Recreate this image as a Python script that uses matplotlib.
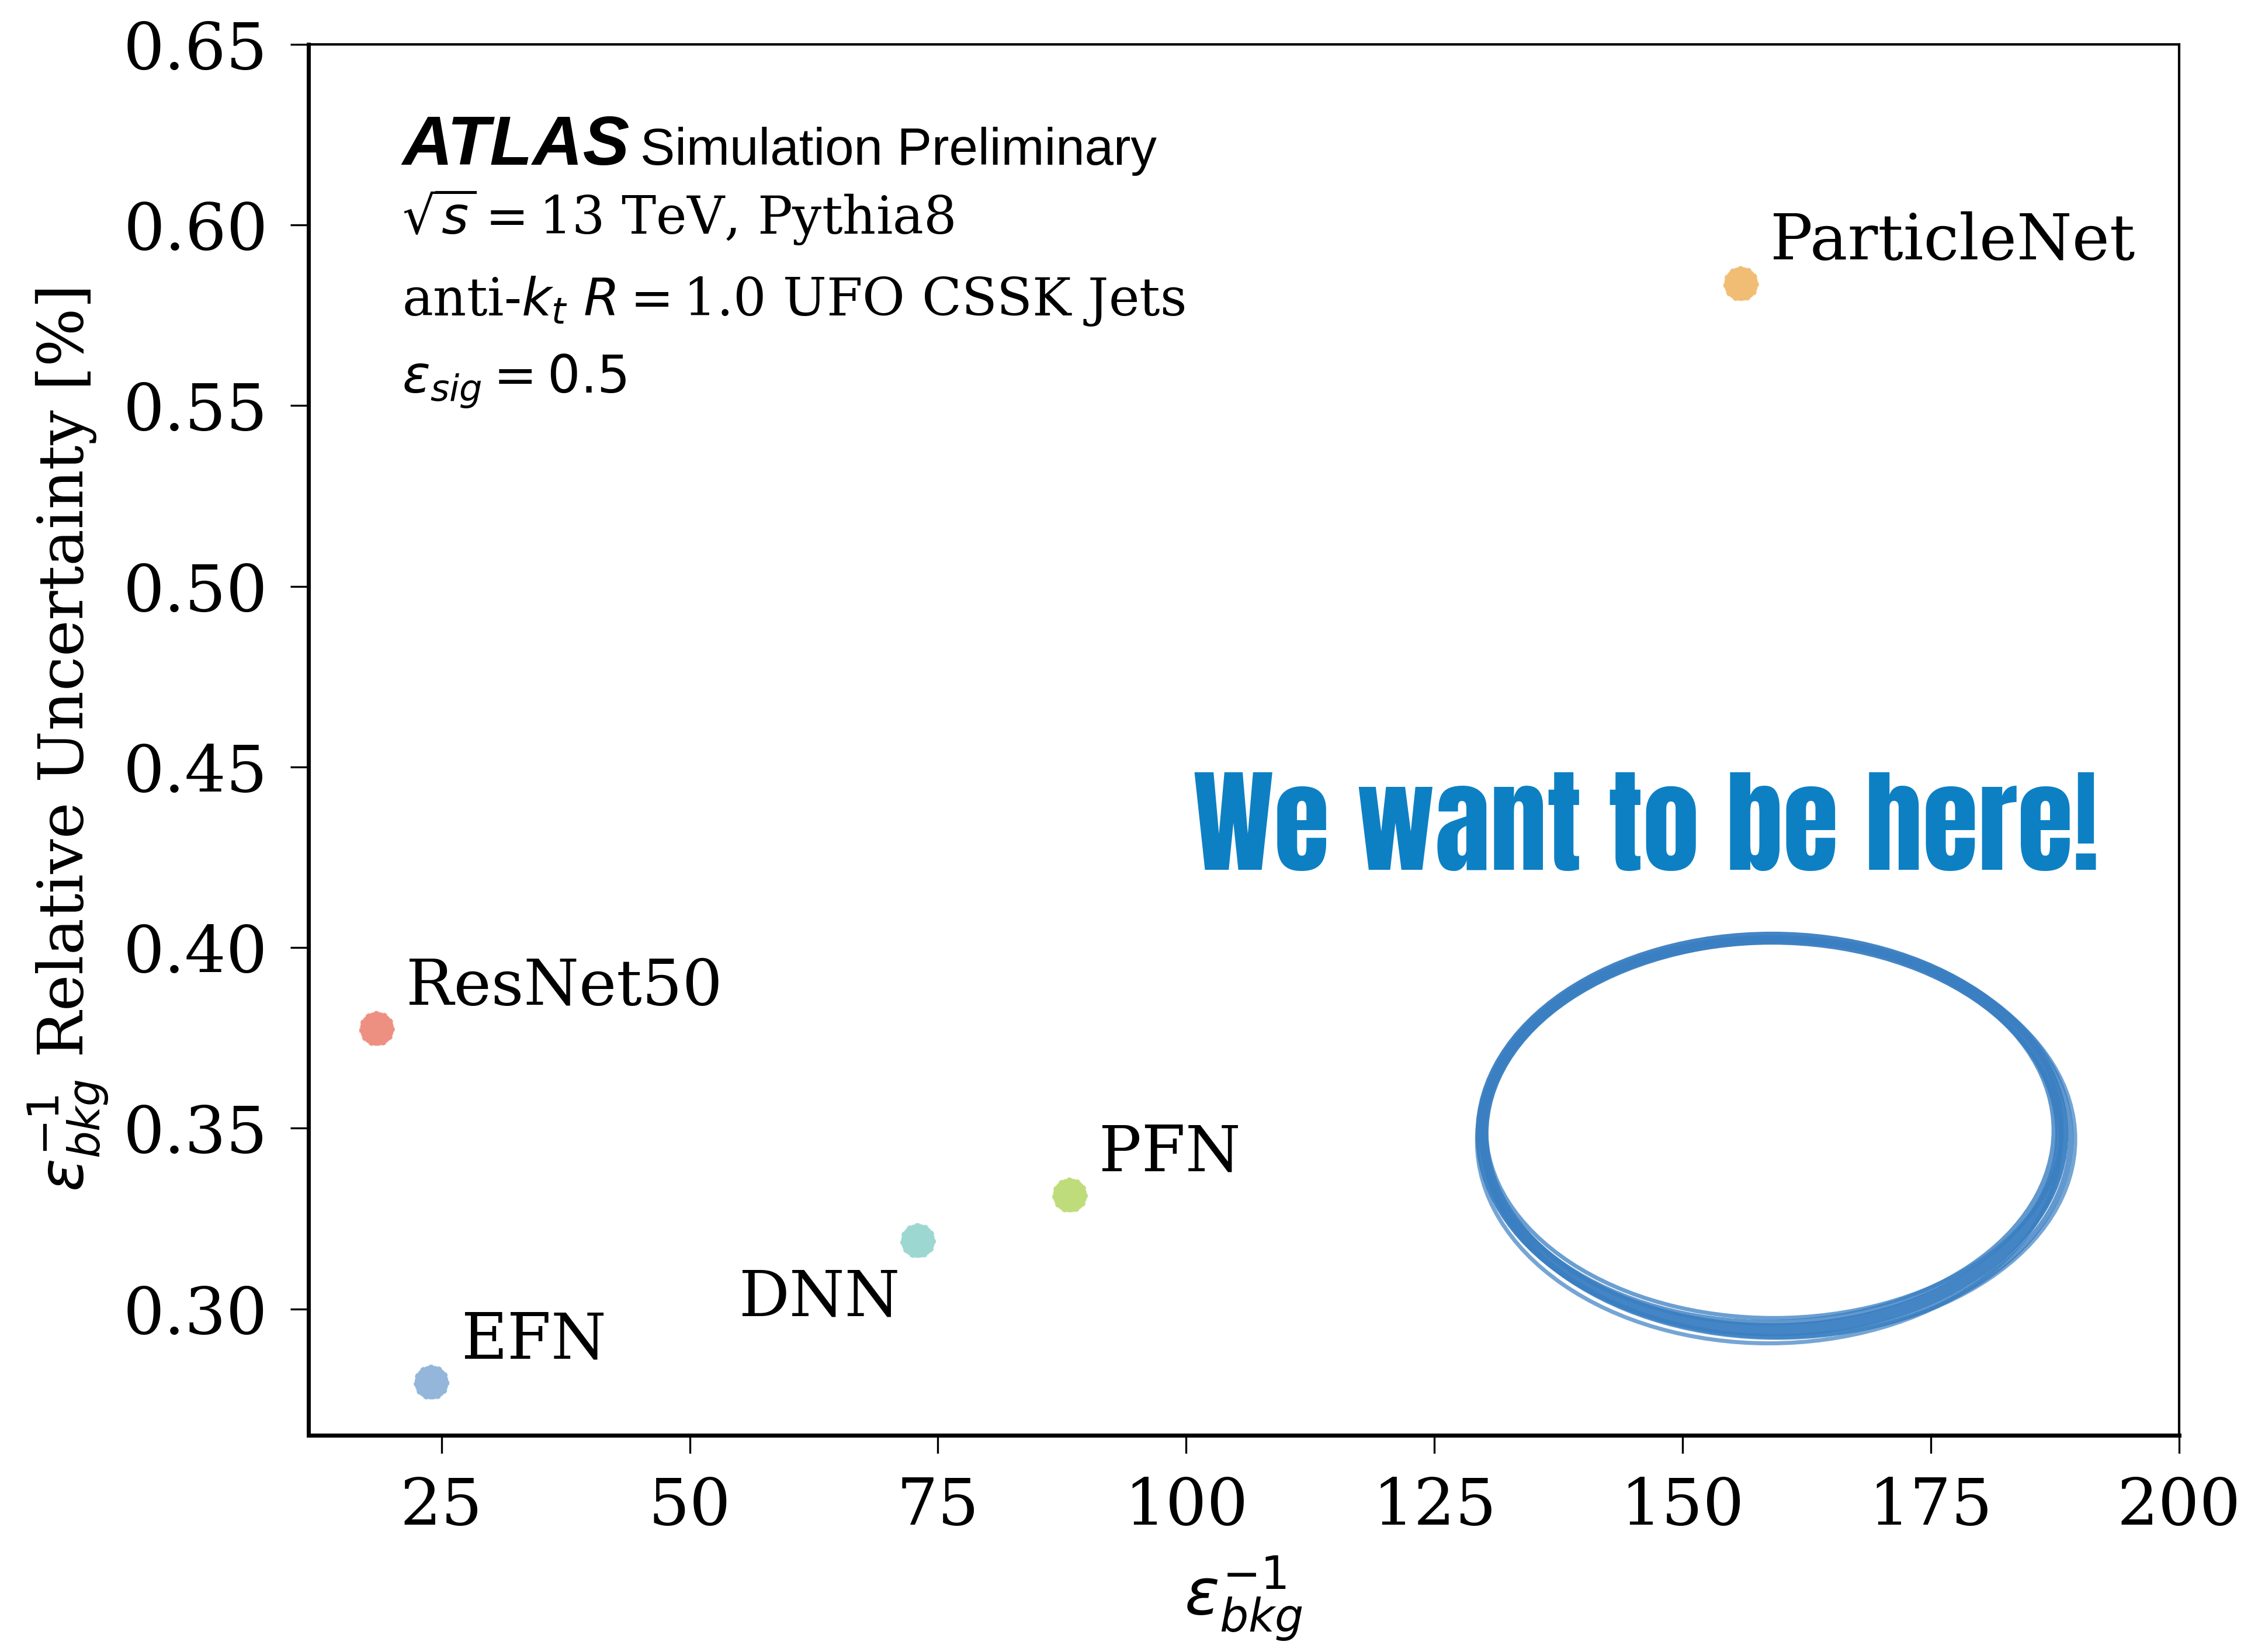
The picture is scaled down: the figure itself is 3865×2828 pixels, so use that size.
import matplotlib
matplotlib.use('Agg')
import matplotlib.pyplot as plt
from matplotlib.patches import Ellipse

plt.rcParams['font.family'] = 'DejaVu Serif'
plt.rcParams['mathtext.fontset'] = 'dejavusans'

# tagger performance at eps_sig = 0.5
taggers = ['ResNet50', 'EFN', 'DNN', 'PFN', 'ParticleNet']
bkg_rejection = [18.5, 24.0, 73.0, 88.3, 155.9]
rel_uncertainty = [0.3775, 0.2796, 0.3188, 0.3314, 0.5837]
colors = ['#ec8474', '#87aed6', '#93d3cc', '#b8d96c', '#f0b565']

x_ticks = [25, 50, 75, 100, 125, 150, 175, 200]
y_ticks = [0.30, 0.35, 0.40, 0.45, 0.50, 0.55, 0.60, 0.65]

# where the label sits relative to its point (points), and alignment
label_offsets = [(18, 15), (18, 15), (-11, -46), (18, 15), (18, 15)]
label_ha = ['left', 'left', 'right', 'left', 'left']

# target region drawn by hand in the original
target_center = (159.0, 0.3484)
target_size = (58.4, 0.1084)

fig = plt.figure(figsize=(19.325, 14.14), dpi=200)
ax = fig.add_axes([0.1366, 0.1312, 0.8284, 0.8419])

ax.scatter(bkg_rejection, rel_uncertainty, s=480, c=colors, alpha=0.9,
           edgecolors='white', linewidths=1.2, linestyles=(0, (3, 2)), zorder=3)

for name, x, y, off, ha in zip(taggers, bkg_rejection, rel_uncertainty, label_offsets, label_ha):
    ax.annotate(name, (x, y), xytext=off, textcoords='offset points',
                ha=ha, va='baseline', fontsize=39)

# brushy ellipse: a few overlapping strokes, slightly shifted
strokes = [(0, 0, 0, 0, 8, 0.95),
           (0.5, -0.001, 0.8, 0.002, 3.5, 0.8),
           (-0.4, 0.001, -0.7, -0.002, 3.5, 0.8),
           (0.7, -0.0015, 1.3, 0.001, 2.5, 0.7),
           (-0.3, -0.002, 0.4, 0.0035, 2.5, 0.7),
           (0.2, 0.0015, -0.4, -0.0035, 2.5, 0.75)]
for dx, dy, dw, dh, lw, a in strokes:
    ax.add_patch(Ellipse((target_center[0] + dx, target_center[1] + dy),
                         target_size[0] + dw, target_size[1] + dh,
                         fill=False, edgecolor='#3a7fc2', lw=lw, alpha=a, zorder=2))

ax.text(0.473, 0.4066, 'We want to be here!', transform=ax.transAxes,
        family=['Anton', 'Oswald', 'DejaVu Sans'], fontsize=70, color='#0d80c4',
        va='baseline')

# ATLAS label block
ax.text(0.05, 0.9135, 'ATLAS', transform=ax.transAxes, family='Liberation Sans',
        fontweight='bold', fontstyle='italic', fontsize=43, va='baseline')
ax.text(0.1775, 0.9135, 'Simulation Preliminary', transform=ax.transAxes,
        family='Liberation Sans', fontsize=32, va='baseline')
ax.text(0.05, 0.8635, r'$\sqrt{s}=$13 TeV, Pythia8', transform=ax.transAxes,
        fontsize=32, va='baseline')
ax.text(0.05, 0.805, r'anti-$k_t$ $R=$1.0 UFO CSSK Jets', transform=ax.transAxes,
        fontsize=32, va='baseline')
ax.text(0.05, 0.749, r'$\epsilon_{sig} = 0.5$', transform=ax.transAxes,
        fontsize=32, va='baseline')

ax.set_xlim(11.6, 200)
ax.set_ylim(0.265, 0.65)
ax.set_xticks(x_ticks)
ax.set_yticks(y_ticks)
ax.set_yticklabels([f'{v:.2f}' for v in y_ticks])
ax.tick_params(axis='both', labelsize=40, length=11, width=1.2, direction='out', pad=14)
for side in ['left', 'bottom']:
    ax.spines[side].set_linewidth(2.5)
for side in ['top', 'right']:
    ax.spines[side].set_linewidth(1.5)

ax.set_xlabel(r'$\epsilon_{bkg}^{-1}$', fontsize=40, labelpad=10)
ax.set_ylabel(r'$\epsilon_{bkg}^{-1}$ Relative Uncertainty [%]', fontsize=38, labelpad=8)

fig.savefig('out.png', dpi=200)
